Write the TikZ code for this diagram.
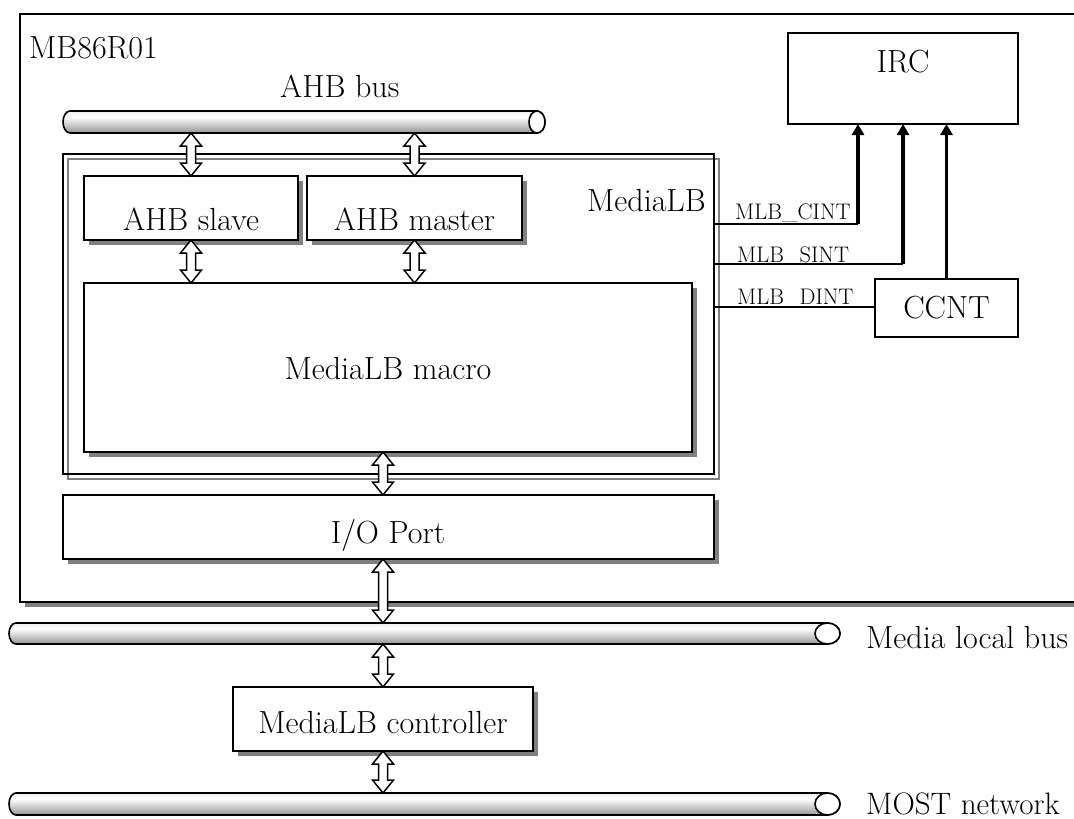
\documentclass[tikz,border=0pt]{standalone}
\usepackage{fontspec}
\usetikzlibrary{calc,arrows.meta,shadows}

% bus pipe shading (colours listed bottom to top)
\pgfdeclareverticalshading{pipeshade}{100bp}{color(0bp)=(black!62); color(22bp)=(black!45); color(62bp)=(white); color(85bp)=(black!12); color(100bp)=(black!35)}

% #1 left x, #2 right x, #3 mid y, #4 half height, #5 left end radius, #6 right end radius
\newcommand\busline[6]{%
  \shadedraw[shading=pipeshade, line width=1.6pt]
    ({#1+#5},{#3-#4}) -- ({#2-#6},{#3-#4})
    arc[start angle=90, end angle=-90, x radius=#6pt, y radius=#4pt]
    -- ({#1+#5},{#3+#4})
    arc[start angle=270, end angle=90, x radius=#5pt, y radius=#4pt] -- cycle;
  \draw[line width=1.6pt, fill=white] ({#2-#6},#3) ellipse[x radius=#6pt, y radius=#4pt];
}

% hollow two-way block arrow from #1 (upper end) to #2 (lower end)
\newcommand\twoway[2]{%
  \draw[dbl] let \p1=(#1), \p2=(#2) in
    (\x1,\y1) -- (\x1+10.5pt,\y1-13pt) -- (\x1+4.5pt,\y1-13pt) -- (\x1+4.5pt,\y2+13pt)
    -- (\x1+10.5pt,\y2+13pt) -- (\x1,\y2) -- (\x1-10.5pt,\y2+13pt) -- (\x1-4.5pt,\y2+13pt)
    -- (\x1-4.5pt,\y1-13pt) -- (\x1-10.5pt,\y1-13pt) -- cycle;
}

\begin{document}
\begin{tikzpicture}[x=1pt,y=-1pt,
  txt/.style={font=\fontsize{32}{38}\selectfont, inner sep=0pt},
  sigtxt/.style={font=\fontsize{22.5}{27}\selectfont, inner sep=0pt},
  box/.style={draw=black, line width=1.8pt, fill=white, inner sep=0pt, outer sep=0pt, anchor=north west},
  sbox/.style={box, general shadow={fill=black!50, shadow xshift=5pt, shadow yshift=-5pt}},
  wire/.style={line width=1.6pt},
  irq/.style={line width=3.3pt, -{Triangle[length=11pt,width=12pt]}},
  dbl/.style={draw=black, line width=1.5pt, fill=white, line join=miter},
]
\useasboundingbox (0,0) rectangle (1074,819);
\clip (0,0) rectangle (1074,819);
\fill[white] (0,0) rectangle (1074,819);

% chip outline
\node[sbox, minimum width=1100pt, minimum height=588pt] (chip) at (20,14) {};
\node[txt, anchor=base west] (chipname) at (29,58) {MB86R01};

% AHB bus
\busline{63}{545}{122}{11}{7}{8}
\coordinate (ahbB) at (0,133);
\node[txt, anchor=base west] (ahblbl) at (280,97) {AHB bus};

% MediaLB block with its double frame
\node[box, minimum width=651pt, minimum height=320pt] (mlb) at (63,154) {};
\draw[black!50, line width=1.5pt] (68,159) rectangle (719,479);
\draw[line width=1.8pt] (mlb.north west) rectangle (mlb.south east);
\node[txt, anchor=base east] (mlblbl) at (706,211) {MediaLB};

\node[sbox, minimum width=214pt, minimum height=64pt] (slave) at (84,176) {};
\node[txt, anchor=base] (slavelbl) at (191,230) {AHB slave};
\node[sbox, minimum width=215pt, minimum height=64pt] (master) at (307,176) {};
\node[txt, anchor=base] (masterlbl) at (414.5,230) {AHB master};
\node[sbox, minimum width=608pt, minimum height=169pt] (macro) at (84,283) {};
\node[txt, anchor=base] (macrolbl) at (388,379) {MediaLB macro};

% I/O port
\node[sbox, minimum width=651pt, minimum height=64pt] (io) at (63,495) {};
\node[txt, anchor=base] (iolbl) at (388,543) {I/O Port};

% interrupt controller side
\node[box, minimum width=230pt, minimum height=91pt] (irc) at (788,33) {};
\node[txt, anchor=base] (irclbl) at (903,72) {IRC};
\node[box, minimum width=143pt, minimum height=58pt] (ccnt) at (875,279) {};
\node[txt, anchor=base] (ccntlbl) at (946.5,318) {CCNT};

\coordinate (cintK) at (858,224);
\coordinate (sintK) at (903,264);
\coordinate (dintK) at (875,307);
\draw[wire] (mlb.east |- cintK) -- (cintK);
\draw[irq] (cintK) -- (cintK |- irc.south);
\draw[wire] (mlb.east |- sintK) -- (sintK);
\draw[irq] (sintK) -- (sintK |- irc.south);
\draw[wire] (mlb.east |- dintK) -- (ccnt.west |- dintK);
\draw[irq] (ccnt.north) -- (ccnt.north |- irc.south);
\node[sigtxt, anchor=base west] (cintlbl) at (735,219) {MLB\_CINT};
\node[sigtxt, anchor=base west] (sintlbl) at (737,262) {MLB\_SINT};
\node[sigtxt, anchor=base west] (dintlbl) at (737,304) {MLB\_DINT};

% external buses and controller
\busline{9}{840}{633.5}{10.5}{7}{12.5}
\coordinate (lbusT) at (0,623);
\coordinate (lbusB) at (0,644);
\node[txt, anchor=base west] (lbuslbl) at (866,648) {Media local bus};

\node[sbox, minimum width=300pt, minimum height=64pt] (ctrl) at (233,687) {};
\node[txt, anchor=base] (ctrllbl) at (383,733) {MediaLB controller};

\busline{9}{840}{804}{11}{7}{12.5}
\coordinate (mostT) at (0,793);
\node[txt, font=\fontsize{31}{37}\selectfont, anchor=base west] (mostlbl) at (866,814) {MOST network};

% two-way data paths
\coordinate (trunk) at (383,0);
\twoway{slave.north |- ahbB}{slave.north}
\twoway{master.north |- ahbB}{master.north}
\twoway{slave.south}{slave.south |- macro.north}
\twoway{master.south}{master.south |- macro.north}
\twoway{trunk |- macro.south}{trunk |- io.north}
\twoway{trunk |- io.south}{trunk |- lbusT}
\twoway{trunk |- lbusB}{trunk |- ctrl.north}
\twoway{trunk |- ctrl.south}{trunk |- mostT}
\end{tikzpicture}
\end{document}
